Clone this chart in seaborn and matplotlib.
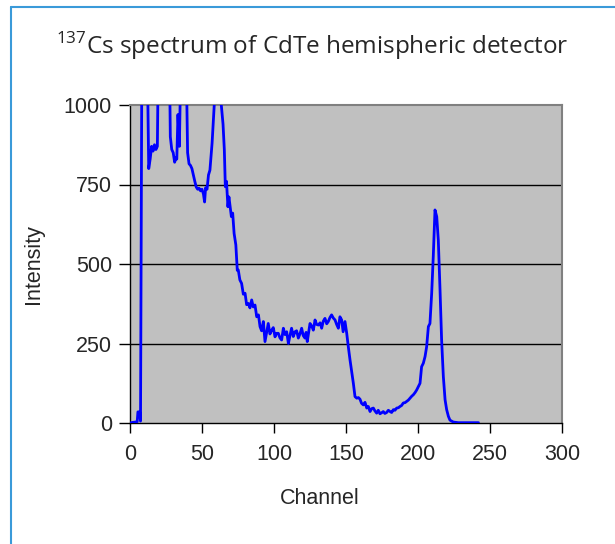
import matplotlib
matplotlib.use("Agg")
import matplotlib.pyplot as plt
import seaborn as sns
import pandas as pd
from matplotlib.lines import Line2D

channel = [0, 2, 4, 5, 5.5, 6.7, 7.3, 8.3, 8.8, 11, 13, 14, 15, 16, 17, 18, 19, 20, 21,
           27, 28, 29, 30, 31, 32, 32.5, 33.3, 34.3, 35.5, 37, 39.5, 40, 41, 42, 43, 44, 45,
           46, 47, 48, 49, 50, 51, 51.8, 52.5, 53.5, 54.5, 55.5, 57, 58.5, 59.5, 62, 63.4,
           64.6, 65.5, 66.2, 67, 68, 68.7, 70.4, 71.3, 72.3, 73.5, 74.5, 75.2, 76.3, 77.5,
           78.7, 79.9, 81, 82.2, 83.3, 84.5, 85.6, 86.8, 88, 89.2, 90.3, 91.4, 92.6, 93.75,
           94.9, 96, 97.2, 98.4, 99.5, 100.7, 101.8, 103, 104.1, 105.3, 106.5, 107.6, 108.8,
           110, 111.1, 112.2, 113.4, 114.6, 115.7, 116.9, 118, 119.2, 120.3, 121.5, 122.3,
           123.1, 124, 125, 126.2, 127.3, 128.5, 129.6, 130.8, 132, 133.1, 134.2, 135.4,
           136.6, 137.7, 138.9, 140, 141.2, 142.4, 143.5, 144.7, 145.8, 147, 148, 149.3,
           150.5, 151.6, 152.8, 154, 155.1, 156.25, 157.5, 158.6, 159.7, 160.8, 162, 163.2,
           164.4, 165.5, 166.7, 167.8, 169, 170.1, 171.3, 172.4, 173.6, 174.7, 175.9, 177,
           178.2, 179.4, 180.6, 181.7, 182.9, 184, 185.2, 186.4, 187.5, 188.6, 189.8, 191,
           192.1, 193.3, 194.4, 195.6, 196.8, 198, 199.1, 200.3, 201.4, 202.5, 203.7, 204.9,
           206, 207.2, 208.3, 209.5, 210.6, 211.8, 213, 214.1, 215.3, 216.4, 217.6, 218.8,
           219.9, 221.1, 222.2, 224.5, 228, 232, 236, 240, 242]

intensity = [0, 2, 3, 4, 35, 35, 6, 1300, 1500, 1500, 800, 830, 870, 855, 875, 860, 870, 1300, 1500,
             1300, 900, 860, 850, 820, 835, 830, 970, 870, 1200, 1300, 1000, 850, 815, 810, 800, 780, 760,
             742, 735, 738, 730, 735, 720, 695, 740, 735, 780, 795, 880, 1000, 1200, 1200, 1000,
             940, 860, 743, 760, 680, 711, 649, 660, 596, 560, 480, 481, 450, 439,
             405, 408, 372, 376, 362, 387, 365, 371, 334, 340, 303, 290, 319, 256,
             285, 313, 280, 292, 300, 271, 282, 282, 268, 261, 298, 278, 287,
             250, 275, 298, 272, 287, 290, 267, 280, 298, 275, 267, 285,
             256, 282, 313, 305, 292, 324, 310, 308, 315, 298, 320, 329,
             312, 319, 332, 340, 330, 324, 310, 298, 334, 324, 287, 319,
             282, 240, 198, 160, 125, 83, 78, 80, 75, 62, 57, 65,
             47, 52, 36, 45, 47, 38, 31, 40, 29, 32, 36, 30,
             33, 40, 36, 33, 42, 40, 47, 48, 52, 55, 63, 64,
             68, 72, 78, 84, 89, 96, 104, 115, 125, 177, 188, 209,
             240, 303, 313, 408, 523, 670, 649, 575, 418, 261, 146, 73,
             42, 21, 9, 3, 1, 1, 1, 1, 1]

x_ticks = [0, 50, 100, 150, 200, 250, 300]
y_ticks = [0, 250, 500, 750, 1000]

df = pd.DataFrame({"Channel": channel, "Intensity": intensity})

sns.set_theme(style="white")
plt.rcParams['font.family'] = ['Liberation Sans', 'DejaVu Sans']
plt.rcParams['mathtext.fontset'] = 'custom'
plt.rcParams['mathtext.rm'] = 'Open Sans'

fig = plt.figure(figsize=(6.15, 5.44), dpi=100)
fig.patch.set_facecolor('white')
ax = fig.add_axes([130/615, 1-423/544, (562-130)/615, (423-105)/544])
ax.set_facecolor('#C0C0C0')

for yv in y_ticks[1:-1]:
    ax.axhline(yv, color='black', lw=1.0, zorder=1)

sns.lineplot(data=df, x="Channel", y="Intensity", sort=False, estimator=None,
             color='#0000FF', lw=2.0, ax=ax, zorder=3)

ax.set_xlim(0, 300)
ax.set_ylim(0, 1000)
ax.set_xticks(x_ticks)
ax.set_yticks(y_ticks)
ax.tick_params(axis='x', direction='out', length=7, width=1, color='black',
               labelsize=15.5, pad=8, bottom=True)
ax.tick_params(axis='y', direction='out', length=8, width=1, color='black',
               labelsize=15.5, pad=5, left=True)
for s in ['left', 'bottom']:
    ax.spines[s].set_color('black')
    ax.spines[s].set_linewidth(1.0)
for s in ['top', 'right']:
    ax.spines[s].set_color('#808080')
    ax.spines[s].set_linewidth(1.5)

ax.set_xlabel("Channel", fontsize=15.5)
ax.set_ylabel("Intensity", fontsize=15.5)
ax.xaxis.set_label_coords((320-130)/432, -(488-423)/318)
ax.yaxis.set_label_coords(-(130-44)/432, 0.5)

fig.text(312/615, 1-46/544, r"$^{\mathdefault{137}}$Cs spectrum of CdTe hemispheric detector",
         ha='center', va='center', fontsize=17.5, family=['Open Sans', 'DejaVu Sans'])

# frame border (top and left visible)
fig.add_artist(Line2D([11/615, 11/615], [0, 1-7/544], transform=fig.transFigure,
                      color='#3A9AD9', lw=1.5))
fig.add_artist(Line2D([11/615, 1], [1-7/544, 1-7/544], transform=fig.transFigure,
                      color='#3A9AD9', lw=1.5))

fig.savefig("out.png", dpi=100)
